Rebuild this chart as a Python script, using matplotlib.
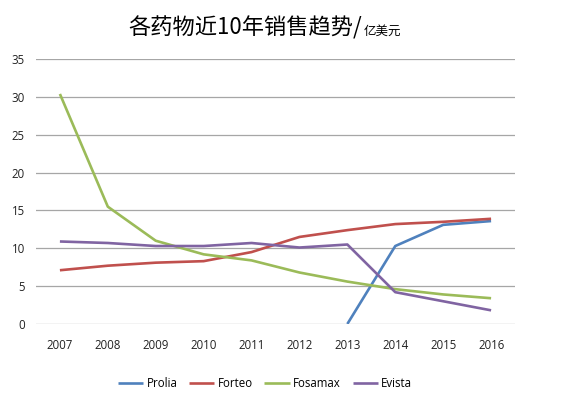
import numpy as np
import matplotlib.pyplot as plt

plt.rcParams['font.family'] = ['Open Sans', 'Noto Sans CJK SC', 'DejaVu Sans']

# data (亿美元)
years = ['2007', '2008', '2009', '2010', '2011', '2012', '2013', '2014', '2015', '2016']
prolia = [np.nan, np.nan, np.nan, np.nan, np.nan, np.nan, 0.0, 10.3, 13.1, 13.6]
forteo = [7.1, 7.7, 8.1, 8.3, 9.5, 11.5, 12.4, 13.2, 13.5, 13.9]
fosamax = [30.4, 15.5, 11.0, 9.2, 8.4, 6.8, 5.6, 4.6, 3.9, 3.4]
evista = [10.9, 10.7, 10.3, 10.3, 10.7, 10.1, 10.5, 4.2, 3.0, 1.8]

series = [('Prolia', prolia, '#4F81BD'),
          ('Forteo', forteo, '#C0504D'),
          ('Fosamax', fosamax, '#9BBB59'),
          ('Evista', evista, '#8064A2')]

fig = plt.figure(figsize=(5.8, 3.97), dpi=100)
ax = fig.add_axes([0.062, 0.184, 0.826, 0.667])

x = np.arange(len(years))
for name, vals, col in series:
    ax.plot(x, vals, color=col, lw=1.9, label=name, solid_capstyle='butt')

ax.set_xlim(-0.5, len(years) - 0.5)
ax.set_ylim(0, 35)
ax.set_yticks(range(0, 36, 5))
ax.set_xticks(x)
ax.set_xticklabels(years)
ax.tick_params(axis='both', length=0, labelsize=8.3, colors='#222222')
ax.tick_params(axis='x', pad=11)
ax.tick_params(axis='y', pad=8)
ax.yaxis.grid(True, color='#A6A6A6', lw=0.9)
ax.set_axisbelow(True)
for s in ax.spines.values():
    s.set_visible(False)

# title, with the unit in a smaller size
fig.text(0.624, 0.912, '各药物近10年销售趋势/', ha='right', va='baseline',
         fontsize=16, family=['Noto Sans CJK SC'])
fig.text(0.627, 0.912, '亿美元', ha='left', va='baseline',
         fontsize=9, family=['Noto Sans CJK SC'])

fig.legend(loc='center', bbox_to_anchor=(0.457, 0.035), ncol=4, frameon=False,
           fontsize=8.3, handlelength=2.2, handletextpad=0.3, columnspacing=1.0)

fig.savefig('out.png', dpi=100)
